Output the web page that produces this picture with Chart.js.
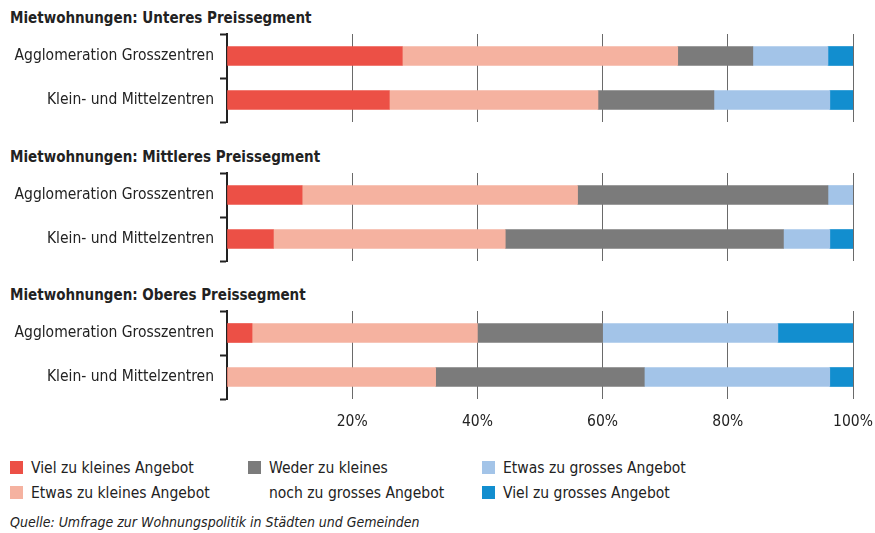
<!DOCTYPE html>
<html><head><meta charset="utf-8">
<script src="https://cdn.jsdelivr.net/npm/chart.js@4"></script>
<style>
html,body{margin:0;padding:0;background:#fff;}
body{width:875px;height:533px;position:relative;overflow:hidden;font-family:"DejaVu Sans Condensed","DejaVu Sans",sans-serif;color:#222;}
.title{position:absolute;left:10px;font-weight:bold;font-size:15px;line-height:20px;white-space:nowrap;}
canvas{position:absolute;left:0;}
.leg{position:absolute;font-size:15.5px;line-height:20px;white-space:nowrap;}
.sw{position:absolute;width:13px;height:13px;}
.src{position:absolute;left:10px;top:513px;font-style:italic;font-size:14px;line-height:18px;white-space:nowrap;}
</style></head>
<body>
<div class="title" id="t0" style="top:8px"></div>
<div class="title" id="t1" style="top:147px"></div>
<div class="title" id="t2" style="top:285px"></div>
<canvas id="c0" width="875" height="92" style="top:32px"></canvas>
<canvas id="c1" width="875" height="92" style="top:171px"></canvas>
<canvas id="c2" width="875" height="132" style="top:309px"></canvas>
<div id="legend"></div>
<div class="src">Quelle: Umfrage zur Wohnungspolitik in Städten und Gemeinden</div>
<script>
const categories = ['Agglomeration Grosszentren', 'Klein- und Mittelzentren'];
const groupTitles = ['Mietwohnungen: Unteres Preissegment', 'Mietwohnungen: Mittleres Preissegment', 'Mietwohnungen: Oberes Preissegment'];
const seriesLabels = ['Viel zu kleines Angebot', 'Etwas zu kleines Angebot', 'Weder zu kleines noch zu grosses Angebot', 'Etwas zu grosses Angebot', 'Viel zu grosses Angebot'];
const seriesColors = ['#EC5046', '#F5B2A0', '#7B7B7B', '#A3C4E8', '#128ECF'];
// values per series, ordered: [group1 cat1, group1 cat2, group2 cat1, group2 cat2, group3 cat1, group3 cat2]
const vielZuKleines  = [28, 25.93, 12, 7.41, 4, 0];
const etwasZuKleines = [44, 33.33, 44, 37.04, 36, 33.33];
const wederNoch      = [12, 18.52, 40, 44.44, 20, 33.33];
const etwasZuGrosses = [12, 18.52, 4, 7.41, 28, 29.63];
const vielZuGrosses  = [4, 3.70, 0, 3.70, 12, 3.70];
const xTicks = [0, 20, 40, 60, 80, 100];

const series = [vielZuKleines, etwasZuKleines, wederNoch, etwasZuGrosses, vielZuGrosses];
const FONT = '"DejaVu Sans Condensed", "DejaVu Sans", sans-serif';

groupTitles.forEach((t, i) => { document.getElementById('t' + i).textContent = t; });

function makeChart(g) {
  const last = g === groupTitles.length - 1;
  const datasets = series.map((vals, s) => ({
    label: seriesLabels[s],
    data: vals.slice(g * 2, g * 2 + 2),
    backgroundColor: seriesColors[s],
    borderWidth: 0,
    barThickness: 19
  }));
  new Chart(document.getElementById('c' + g), {
    type: 'bar',
    data: { labels: categories, datasets },
    options: {
      indexAxis: 'y',
      responsive: false,
      animation: false,
      devicePixelRatio: 1,
      layout: { padding: { top: 2, bottom: last ? 0 : 2, left: 0, right: 22 } },
      plugins: { legend: { display: false }, tooltip: { enabled: false } },
      scales: {
        x: {
          stacked: true, min: 0, max: 100,
          afterBuildTicks: s => { s.ticks = xTicks.map(v => ({ value: v })); },
          grid: { color: '#6a6a6a', lineWidth: 1, drawTicks: false },
          border: { display: false },
          ticks: {
            display: last, padding: 14, color: '#222',
            font: { family: FONT, size: 15.5 },
            callback: v => v === 0 ? '' : v + '%'
          },
          afterFit: s => {
            s.height = last ? 42 : 0;
            s.paddingLeft = 0; s.paddingRight = 0;
          }
        },
        y: {
          stacked: true,
          offset: true,
          grid: { display: true, drawOnChartArea: false, drawTicks: true, tickLength: 7, tickColor: '#222', tickWidth: 2, offset: true },
          border: { display: true, color: '#222', width: 2 },
          ticks: { padding: 6, color: '#222', font: { family: FONT, size: 15.5 } },
          afterFit: s => {
            s.width = 227;
            s.paddingTop = 0; s.paddingBottom = 0;
          }
        }
      }
    }
  });
}
[0, 1, 2].forEach(makeChart);

// legend
const legendItems = [
  { s: 0, x: 10, y: 461, lines: [seriesLabels[0]] },
  { s: 1, x: 10, y: 486, lines: [seriesLabels[1]] },
  { s: 2, x: 248, y: 461, lines: ['Weder zu kleines', 'noch zu grosses Angebot'] },
  { s: 3, x: 482, y: 461, lines: [seriesLabels[3]] },
  { s: 4, x: 482, y: 486, lines: [seriesLabels[4]] }
];
const L = document.getElementById('legend');
legendItems.forEach(it => {
  const sw = document.createElement('div');
  sw.className = 'sw';
  sw.style.left = it.x + 'px'; sw.style.top = it.y + 'px';
  sw.style.background = seriesColors[it.s];
  L.appendChild(sw);
  it.lines.forEach((ln, k) => {
    const d = document.createElement('div');
    d.className = 'leg';
    d.style.left = (it.x + 21) + 'px';
    d.style.top = (it.y - 3 + k * 25) + 'px';
    d.textContent = ln;
    L.appendChild(d);
  });
});
</script>
</body></html>
